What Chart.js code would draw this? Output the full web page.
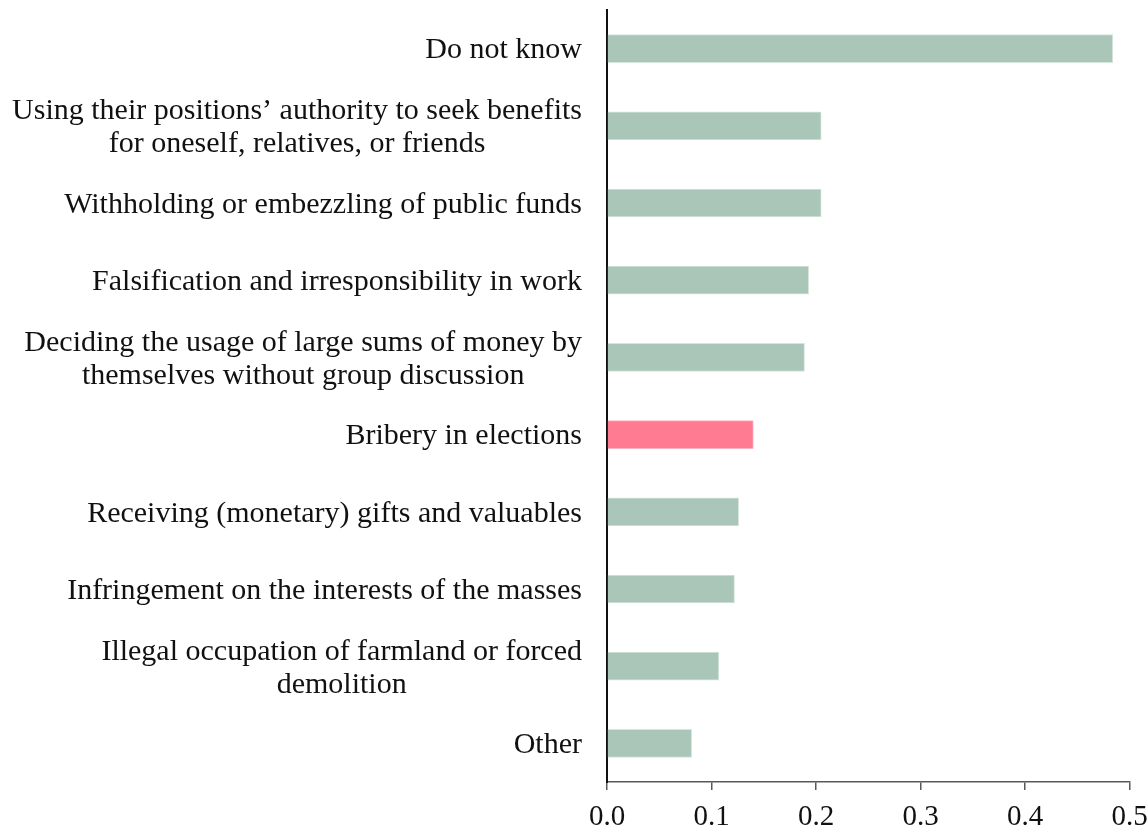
<!DOCTYPE html>
<html>
<head>
<meta charset="utf-8">
<script src="https://cdn.jsdelivr.net/npm/chart.js@4"></script>
<style>
  html, body { margin: 0; padding: 0; background: #fff; }
  #wrap { width: 1148px; height: 832px; position: relative; }
</style>
</head>
<body>
<div id="wrap"><canvas id="myChart"></canvas></div>
<script>
// category labels, one array of lines per bar
const categories = [
  ["Do not know"],
  ["Using their positions\u2019 authority to seek benefits", "for oneself, relatives, or friends"],
  ["Withholding or embezzling of public funds"],
  ["Falsification and irresponsibility in work"],
  ["Deciding the usage of large sums of money by", "themselves without group discussion"],
  ["Bribery in elections"],
  ["Receiving (monetary) gifts and valuables"],
  ["Infringement on the interests of the masses"],
  ["Illegal occupation of farmland or forced", "demolition"],
  ["Other"]
]
const shares = [0.484, 0.205, 0.205, 0.193, 0.189, 0.140, 0.126, 0.122, 0.107, 0.081]
const xTicks = [0.0, 0.1, 0.2, 0.3, 0.4, 0.5]
const highlight = "Bribery in elections"

const green = '#A9C6B8'
const pink = '#FF7B92'
const labelFont = '30px "Liberation Serif", "Times New Roman", serif'

// draws the multi-line category labels, right aligned block, lines centred
const catLabels = {
  id: 'catLabels',
  afterDraw(chart) {
    const y = chart.scales.y
    const c = chart.ctx
    const right = chart.chartArea.left - 25
    const lh = 33
    c.save()
    c.font = labelFont
    c.fillStyle = '#111'
    c.textAlign = 'center'
    c.textBaseline = 'middle'
    categories.forEach((lines, i) => {
      const yc = y.getPixelForValue(i) + 2
      const w = Math.max(...lines.map(l => c.measureText(l).width))
      const xc = right - w / 2
      lines.forEach((l, k) => {
        c.fillText(l, xc, yc + (k - (lines.length - 1) / 2) * lh)
      })
    })
    c.restore()
  }
}

const ctx = document.getElementById('myChart')
new Chart(ctx, {
  type: 'bar',
  data: {
    labels: categories.map(l => l.join(' ')),
    datasets: [{
      data: shares,
      backgroundColor: categories.map(l => l.join(' ') === highlight ? pink : green),
      borderColor: categories.map(l => l.join(' ') === highlight ? '#ffb3c0' : '#d6e6de'),
      borderWidth: 1,
      borderSkipped: 'start',
      barThickness: 28
    }]
  },
  options: {
    indexAxis: 'y',
    responsive: true,
    maintainAspectRatio: false,
    animation: false,
    devicePixelRatio: 1,
    layout: { padding: { top: 10, right: 18.5, left: 0, bottom: 0 } },
    plugins: {
      legend: { display: false },
      tooltip: { enabled: false }
    },
    scales: {
      x: {
        min: 0,
        max: 0.5,
        afterBuildTicks: s => { s.ticks = xTicks.map(v => ({ value: v })) },
        afterFit: s => { s.height = 50; s.paddingRight = 0; s.paddingLeft = 0 },
        grid: {
          drawOnChartArea: false,
          drawTicks: true,
          tickLength: 8,
          color: '#595959',
          lineWidth: 1.5
        },
        border: { display: true, color: '#595959', width: 1.5 },
        ticks: {
          color: '#111',
          padding: 10,
          font: { family: '"Liberation Serif", "Times New Roman", serif', size: 29 },
          callback: v => Number(v).toFixed(1)
        }
      },
      y: {
        afterFit: s => { s.width = 607 },
        grid: { display: false, drawTicks: false },
        border: { display: true, color: '#111', width: 2 },
        ticks: { display: false }
      }
    }
  },
  plugins: [catLabels]
})
</script>
</body>
</html>
